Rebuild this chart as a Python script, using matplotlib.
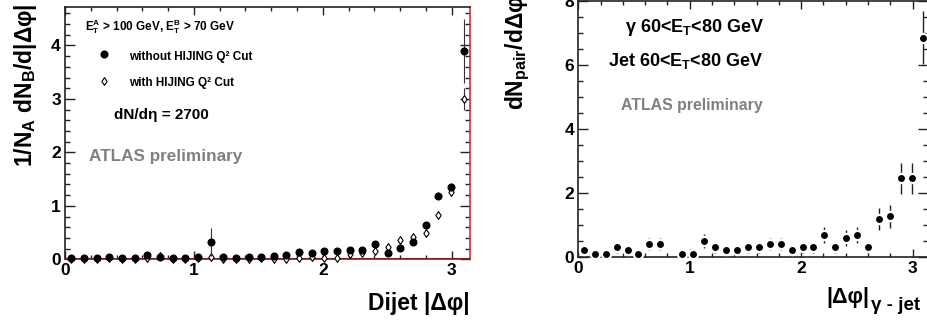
import numpy as np
import matplotlib.pyplot as plt
from matplotlib.ticker import MultipleLocator

plt.rcParams['font.family'] = ['Liberation Sans', 'DejaVu Sans']
plt.rcParams['font.weight'] = 'bold'
plt.rcParams['mathtext.fontset'] = 'custom'
plt.rcParams['mathtext.rm'] = 'Liberation Sans:bold'
plt.rcParams['mathtext.it'] = 'Liberation Sans:bold'
plt.rcParams['mathtext.bf'] = 'Liberation Sans:bold'
plt.rcParams['mathtext.default'] = 'rm'

# 32 bins in |dphi| between 0 and pi
edges = np.linspace(0, np.pi, 33)
dphi = 0.5 * (edges[:-1] + edges[1:])
half_bin = 0.5 * (edges[1] - edges[0])

# left panel : dijets, dN/deta = 2700
sans_cut = [0.025, 0.03, 0.03, 0.035, 0.025, 0.03, 0.08, 0.05, 0.03, 0.03, 0.04, 0.33,
            0.04, 0.03, 0.04, 0.04, 0.07, 0.08, 0.14, 0.11, 0.15, 0.15, 0.18, 0.175,
            0.29, 0.125, 0.21, 0.32, 0.64, 1.19, 1.36, 3.89]
err_sans = [0.02, 0.02, 0.02, 0.02, 0.02, 0.02, 0.03, 0.02, 0.02, 0.02, 0.02, 0.26,
            0.02, 0.02, 0.02, 0.02, 0.02, 0.02, 0.03, 0.03, 0.03, 0.03, 0.03, 0.03,
            0.04, 0.03, 0.03, 0.04, 0.05, 0.07, 0.07, 0.6]
avec_cut = [0.01, 0.01, 0.01, 0.02, 0.01, 0.01, 0.02, 0.06, 0.01, 0.01, 0.02, 0.04,
            0.01, 0.01, 0.01, 0.02, 0.01, 0.01, 0.02, 0.05, 0.03, 0.03, 0.09, 0.12,
            0.16, 0.23, 0.36, 0.42, 0.5, 0.83, 1.25, 3.0]
err_avec = [0.01, 0.01, 0.01, 0.01, 0.01, 0.01, 0.01, 0.01, 0.01, 0.01, 0.01, 0.01,
            0.01, 0.01, 0.01, 0.01, 0.01, 0.01, 0.01, 0.01, 0.01, 0.01, 0.02, 0.02,
            0.02, 0.02, 0.03, 0.03, 0.04, 0.05, 0.06, 0.2]

# right panel : gamma-jet
gamma_jet = [0.21, 0.1, 0.1, 0.29, 0.21, 0.1, 0.4, 0.4, np.nan, 0.1, 0.1, 0.5,
             0.29, 0.21, 0.21, 0.29, 0.29, 0.4, 0.4, 0.21, 0.29, 0.29, 0.68, 0.29,
             0.58, 0.68, 0.29, 1.18, 1.27, 2.45, 2.45, 6.85]
err_gamma = [0.14, 0.1, 0.1, 0.17, 0.14, 0.1, 0.2, 0.2, np.nan, 0.1, 0.1, 0.22,
             0.17, 0.14, 0.14, 0.17, 0.17, 0.2, 0.2, 0.14, 0.17, 0.17, 0.26, 0.17,
             0.24, 0.26, 0.17, 0.34, 0.36, 0.49, 0.49, 0.82]

# open diamond like the ROOT one (wider than matplotlib's 'd')
diamond = [(0, -1), (0.68, 0), (0, 1), (-0.68, 0), (0, -1)]

W, H = 927, 324
fig = plt.figure(figsize=(W / 100, H / 100), dpi=100)


def style_axes(ax, ymajor, yminor):
    ax.set_xlim(0, np.pi)
    ax.xaxis.set_major_locator(MultipleLocator(1))
    ax.xaxis.set_minor_locator(MultipleLocator(0.2))
    ax.yaxis.set_major_locator(MultipleLocator(ymajor))
    ax.yaxis.set_minor_locator(MultipleLocator(yminor))
    ax.tick_params(which='both', direction='in', top=True, right=True,
                   labelsize=12.5, pad=3, color='#222222', width=1)
    ax.tick_params(axis='y', which='major', length=7)
    ax.tick_params(axis='y', which='minor', length=3.6)
    ax.tick_params(axis='x', which='major', length=5.8)
    ax.tick_params(axis='x', which='minor', length=2.9)
    for lab in ax.get_xticklabels() + ax.get_yticklabels():
        lab.set_fontweight('bold')
    for s in ax.spines.values():
        s.set_linewidth(1.2)
        s.set_color('#222222')


# ---- left panel
ax1 = fig.add_axes([65 / W, (H - 259.3) / H, 405 / W, 252.3 / H])
style_axes(ax1, 1, 0.2)
ax1.set_ylim(0, 4.72)
ax1.spines['right'].set_color('#cc3333')
ax1.spines['bottom'].set_color('#802020')
ax1.axhline(0, color='#802020', lw=1.5, zorder=2)

ax1.errorbar(dphi, avec_cut, yerr=err_avec, fmt='none', ecolor='#333333',
             elinewidth=0.8, capsize=0, zorder=3)
ax1.plot(dphi, avec_cut, ls='none', marker=diamond, ms=5.6, mfc='white', mec='black',
         mew=0.8, zorder=3, clip_on=False)
ax1.errorbar(dphi, sans_cut, yerr=err_sans, fmt='o', ms=4.8, color='black',
             ecolor='#333333', elinewidth=0.8, capsize=0, zorder=4, clip_on=False)

ax1.text(0.049, 0.921, r'E$_\mathrm{T}^\mathrm{A}$ > 100 GeV, E$_\mathrm{T}^\mathrm{B}$ > 70 GeV',
         transform=ax1.transAxes, fontsize=8.5, va='center', ha='left')
ax1.plot([0.096], [0.814], 'o', ms=4.8, color='black', transform=ax1.transAxes)
ax1.text(0.158, 0.802, 'without HIJING Q² Cut', transform=ax1.transAxes,
         fontsize=8.5, va='center', ha='left')
ax1.plot([0.096], [0.707], ls='none', marker=diamond, ms=5.6, mfc='white', mec='black',
         mew=0.8, transform=ax1.transAxes)
ax1.text(0.158, 0.699, 'with HIJING Q² Cut', transform=ax1.transAxes,
         fontsize=8.5, va='center', ha='left')
ax1.text(0.121, 0.572, 'dN/dη = 2700', transform=ax1.transAxes,
         fontsize=11, va='center', ha='left')
ax1.text(0.059, 0.409, 'ATLAS preliminary', transform=ax1.transAxes,
         fontsize=12.3, va='center', ha='left', color='#808080')

fig.text(32 / W, (H - 167) / H, r'1/N$_\mathrm{A}$ dN$_\mathrm{B}$/d|Δφ|', rotation=90,
         rotation_mode='anchor', ha='left', va='baseline', fontsize=16.5)
fig.text(470 / W, (H - 310) / H, 'Dijet |Δφ|', ha='right', va='baseline', fontsize=16.5)

# ---- right panel
ax2 = fig.add_axes([578.3 / W, (H - 256.7) / H, 350 / W, 256 / H])
style_axes(ax2, 2, 0.5)
ax2.set_ylim(0, 8)

xe = ax2.errorbar(dphi, gamma_jet, xerr=half_bin, fmt='none', ecolor='#c8c8c8',
                  elinewidth=0.8, capsize=0, zorder=2)
xe[2][0].set_linestyle((0, (1, 1.5)))
ax2.errorbar(dphi, gamma_jet, yerr=err_gamma, fmt='o', ms=6.6, mfc='black', mec='white',
             mew=1.6, ecolor='#222222', elinewidth=1.0, capsize=0, zorder=3, clip_on=False)

ax2.text(0.133, 0.897, r'γ 60<E$_\mathrm{T}$<80 GeV', transform=ax2.transAxes,
         fontsize=13, va='center', ha='left')
ax2.text(0.085, 0.764, r'Jet 60<E$_\mathrm{T}$<80 GeV', transform=ax2.transAxes,
         fontsize=13, va='center', ha='left')
ax2.text(0.122, 0.592, 'ATLAS preliminary', transform=ax2.transAxes,
         fontsize=11.4, va='center', ha='left', color='#808080')

fig.text(523 / W, (H - 110) / H, r'dN$_\mathrm{pair}$/dΔφ', rotation=90,
         rotation_mode='anchor', ha='left', va='baseline', fontsize=16.5)
fig.text(869 / W, (H - 303) / H, '|Δφ|', ha='right', va='baseline', fontsize=15.5)
fig.text(871 / W, (H - 310) / H, 'γ - jet', ha='left', va='baseline', fontsize=13.5)

fig.savefig('out.png', dpi=100)
